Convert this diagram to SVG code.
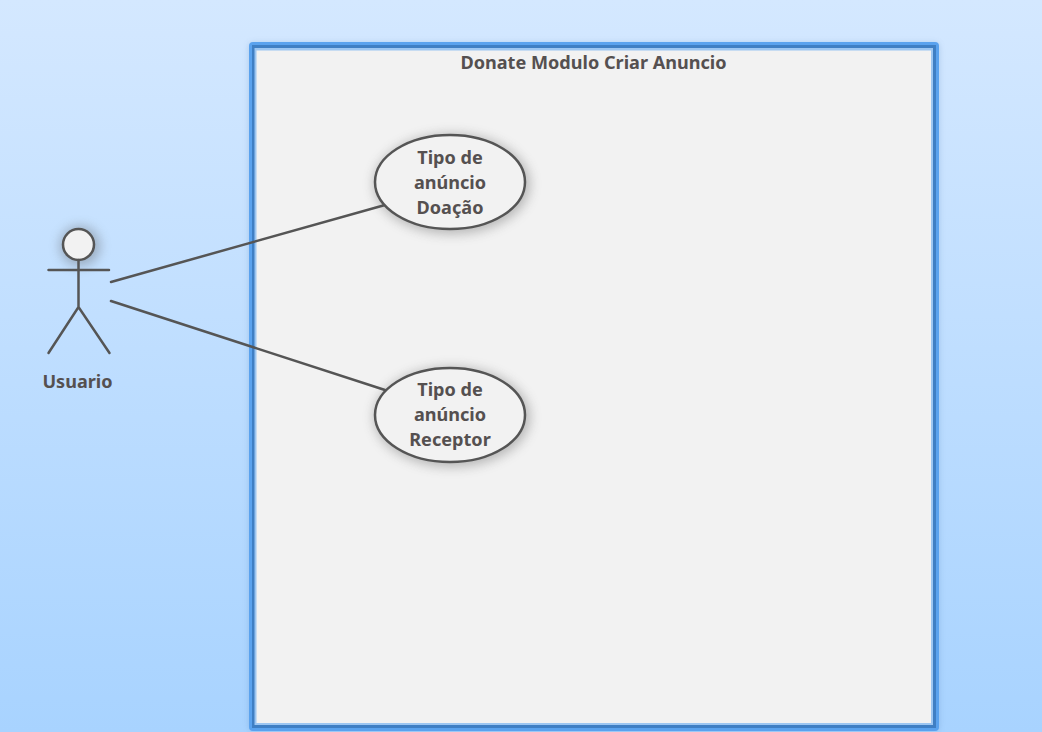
<svg xmlns="http://www.w3.org/2000/svg" width="1042" height="732" viewBox="0 0 1042 732">
<defs>
<linearGradient id="bg" x1="0" y1="0" x2="0" y2="1"><stop offset="0" stop-color="#d4e8ff"/><stop offset="1" stop-color="#a8d3ff"/></linearGradient>
<filter id="sh" x="-30%" y="-40%" width="160%" height="180%"><feGaussianBlur stdDeviation="6"/></filter>
<filter id="gl" x="-5%" y="-5%" width="110%" height="110%"><feGaussianBlur stdDeviation="3"/></filter>
</defs>
<style>
.t{font-family:"Noto Sans","Open Sans","Liberation Sans",sans-serif;font-weight:700;font-size:18.1px;fill:#555050;text-anchor:middle}
.l{stroke:#555;stroke-width:2.5;fill:none;stroke-linecap:round}
.e{fill:#f2f2f2;stroke:#555;stroke-width:2.5}
.s{fill:#555;opacity:.38;filter:url(#sh)}
</style>
<rect width="1042" height="732" fill="url(#bg)"/>
<g id="system">
<rect x="249" y="43" width="690" height="688" rx="4" fill="#3f6fa8" opacity=".25" filter="url(#gl)"/>
<rect x="249" y="42" width="690" height="689" rx="4" fill="#5aa2ee"/>
<rect x="252" y="45" width="684" height="683" fill="#3f7fc4"/>
<rect x="254.500" y="48" width="678.500" height="677" fill="#9cc6f2"/>
<rect x="256.500" y="50.500" width="674.500" height="672.500" fill="#f2f2f2"/>
<text class="t" x="593.500" y="68.500">Donate Modulo Criar Anuncio</text>
</g>
<g id="connectors">
<line class="l" x1="111" y1="282" x2="385" y2="205"/>
<line class="l" x1="111" y1="301" x2="385" y2="390"/>
</g>
<g id="uc1">
<ellipse class="s" cx="452" cy="184" rx="78" ry="50"/>
<ellipse class="e" cx="450" cy="182" rx="75" ry="47"/>
<text class="t" x="450" y="164">Tipo de</text>
<text class="t" x="450" y="189">anúncio</text>
<text class="t" x="450" y="214">Doação</text>
</g>
<g id="uc2">
<ellipse class="s" cx="452" cy="417" rx="78" ry="50"/>
<ellipse class="e" cx="450" cy="415" rx="75" ry="47"/>
<text class="t" x="450" y="396">Tipo de</text>
<text class="t" x="450" y="421">anúncio</text>
<text class="t" x="450" y="446">Receptor</text>
</g>
<g id="actor">
<circle class="s" cx="80" cy="246" r="20"/>
<circle class="e" cx="78.500" cy="244.500" r="15.500"/>
<path class="l" d="M78.500 260V307M48.500 270H109M48.500 353L78.500 307L109.500 353"/>
<text class="t" x="77.500" y="387.500">Usuario</text>
</g>
</svg>
